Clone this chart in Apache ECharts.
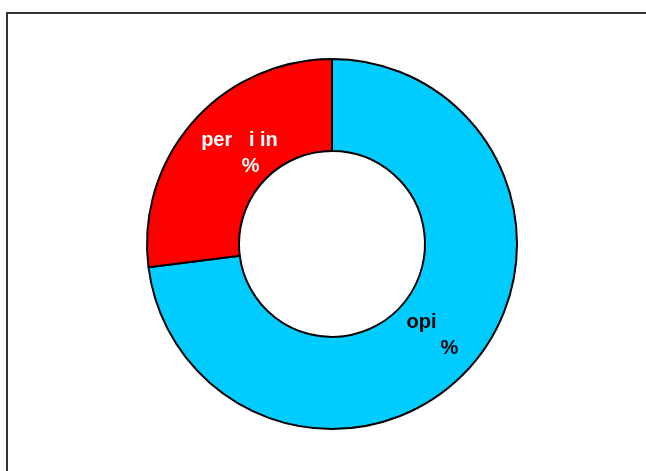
<!DOCTYPE html>
<html>
<head>
<meta charset="utf-8">
<script src="https://cdn.jsdelivr.net/npm/echarts@6/dist/echarts.min.js"></script>
<style>
html, body { margin: 0; padding: 0; background: #fff; }
#main { width: 646px; height: 471px; }
</style>
</head>
<body>
<div id="main"></div>
<script>
var names = ['opi', 'per   i in'];
var values = [73, 27];
var colors = ['#00ccff', '#ff0000'];
var labelColors = ['#000000', '#ffffff'];
var labelTexts = ['opi\n          %', 'per   i in\n    %'];
var labelShift = [[-17, -2], [14, 3]];

var myChart = echarts.init(document.getElementById('main'));

var data = [];
for (var i = 0; i < names.length; i++) {
    data.push({
        name: names[i],
        value: values[i],
        itemStyle: { color: colors[i] },
        label: { color: labelColors[i], formatter: labelTexts[i], offset: labelShift[i] }
    });
}

option = {
    backgroundColor: '#ffffff',
    animation: false,
    graphic: [{
        type: 'rect',
        shape: { x: 7, y: 13, width: 700, height: 500 },
        style: { fill: 'none', stroke: '#333333', lineWidth: 2 }
    }],
    series: [{
        type: 'pie',
        center: [332, 244],
        radius: [93, 185],
        startAngle: 90,
        clockwise: true,
        data: data,
        label: {
            show: true,
            position: 'inside',
            fontFamily: 'Liberation Sans',
            fontSize: 20,
            fontWeight: 'bold',
            lineHeight: 26
        },
        labelLine: { show: false },
        itemStyle: {
            borderColor: '#000000',
            borderWidth: 2
        },
        emphasis: { disabled: true }
    }]
};
myChart.setOption(option);
</script>
</body>
</html>
